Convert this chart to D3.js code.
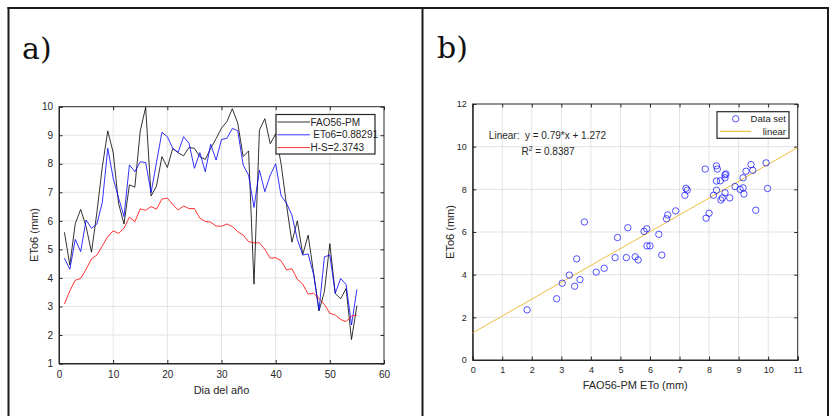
<!DOCTYPE html>
<html>
<head>
<meta charset="utf-8">
<script src="https://cdn.jsdelivr.net/npm/d3@7/dist/d3.min.js"></script>
<style>
  html, body { margin: 0; padding: 0; background: #fff; }
  svg { display: block; }
  text { font-family: "Liberation Sans", Arial, Helvetica, sans-serif; fill: #262626; }
</style>
</head>
<body>
<svg id="chart" width="832" height="416"></svg>
<script>
// Daily reference evapotranspiration (mm), days 1..55
const days = d3.range(1, 56);

const faoPm = [5.6, 4.45, 5.9, 6.4, 5.8, 4.9, 6.3, 7.9, 9.15, 8.4,
  6.6, 5.89, 7.26, 7.18, 9.15, 9.98, 6.87, 7.22, 8.25, 7.87,
  8.54, 8.38, 8.28, 8.57, 8.54, 8.25, 8.15, 8.54, 8.88, 9.25,
  9.48, 9.93, 9.42, 8.25, 8.45, 3.78, 9.18, 9.58, 8.7, 9.05,
  8.0, 6.56, 5.25, 6.0, 4.82, 5.5, 4.18, 2.84, 3.52, 5.2,
  3.45, 3.27, 3.63, 1.84, 3.03];

const eto6 = [4.69, 4.3, 5.35, 4.92, 6.03, 5.74, 5.89, 6.65, 8.54, 7.5,
  6.8, 6.15, 7.96, 7.72, 8.07, 8.04, 6.99, 8.05, 9.1, 8.95,
  8.54, 8.4, 8.95, 8.72, 7.84, 8.39, 7.72, 8.68, 8.13, 8.85,
  8.89, 9.24, 9.16, 7.96, 7.6, 6.47, 7.78, 7.02, 7.6, 8.0,
  6.88, 6.62, 6.2, 5.35, 4.8, 4.84, 4.12, 2.87, 4.74, 4.8,
  3.46, 3.98, 3.77, 2.35, 3.6];

const hargreaves = [3.08, 3.55, 3.92, 3.98, 4.3, 4.67, 4.8, 5.12, 5.45, 5.65,
  5.56, 5.74, 6.13, 5.97, 6.42, 6.37, 6.5, 6.41, 6.76, 6.8,
  6.57, 6.38, 6.52, 6.43, 6.43, 6.09, 5.98, 5.95, 5.82, 5.81,
  5.89, 5.8, 5.62, 5.5, 5.27, 5.23, 5.23, 5.0, 4.69, 4.71,
  4.6, 4.28, 4.32, 3.95, 3.78, 3.43, 3.46, 3.28, 3.07, 2.76,
  2.7, 2.54, 2.47, 2.66, 2.7];

const seriesNames = ["FAO56-PM", " ETo6=0.88291", "H-S=2.3743"];
const seriesColors = ["#000000", "#0000ff", "#ff0000"];

const dayTicks = [0, 10, 20, 30, 40, 50, 60];
const etoTicks = [1, 2, 3, 4, 5, 6, 7, 8, 9, 10];

// Regression shown in panel b
const fitSlope = 0.79;
const fitIntercept = 1.272;
const fitR2 = "0.8387";
const scatterXTicks = [0, 1, 2, 3, 4, 5, 6, 7, 8, 9, 10, 11];
const scatterYTicks = [0, 2, 4, 6, 8, 10, 12];

const svg = d3.select("#chart");
const axisColor = "#262626";
const gridColor = "#e3e3e3";

// Outer frame of the two-panel figure
const frame = svg.append("g").attr("stroke", "#1a1a1a").attr("stroke-width", 2);
frame.append("line").attr("x1", 7.5).attr("x2", 829).attr("y1", 8).attr("y2", 8);
frame.append("line").attr("x1", 8.5).attr("x2", 8.5).attr("y1", 7).attr("y2", 416);
frame.append("line").attr("x1", 422.5).attr("x2", 422.5).attr("y1", 7).attr("y2", 416);
frame.append("line").attr("x1", 828).attr("x2", 828).attr("y1", 7).attr("y2", 416);

svg.append("text").attr("x", 22).attr("y", 59)
  .style("font-family", "'DejaVu Serif', 'Liberation Serif', serif")
  .style("font-size", "30px").style("fill", "#111").text("a)");
svg.append("text").attr("x", 437).attr("y", 58)
  .style("font-family", "'DejaVu Serif', 'Liberation Serif', serif")
  .style("font-size", "30px").style("fill", "#111").text("b)");

// Draws a MATLAB-style boxed axes with grid and inward ticks on all sides
function drawAxes(g, x, y, xt, yt, fontSize) {
  const [x0, x1] = x.range();
  const [y0, y1] = y.range();
  const tl = 3.5;
  g.append("g").selectAll("line").data(xt.slice(1, -1)).join("line")
    .attr("x1", d => x(d)).attr("x2", d => x(d)).attr("y1", y0).attr("y2", y1)
    .attr("stroke", gridColor).attr("stroke-width", 1);
  g.append("g").selectAll("line").data(yt.slice(1, -1)).join("line")
    .attr("y1", d => y(d)).attr("y2", d => y(d)).attr("x1", x0).attr("x2", x1)
    .attr("stroke", gridColor).attr("stroke-width", 1);

  const bottom = g.append("g").attr("transform", `translate(0,${y0})`)
    .call(d3.axisBottom(x).tickValues(xt).tickSize(-tl).tickPadding(7).tickFormat(d3.format("d")));
  const left = g.append("g").attr("transform", `translate(${x0},0)`)
    .call(d3.axisLeft(y).tickValues(yt).tickSize(-tl).tickPadding(6).tickFormat(d3.format("d")));
  const top = g.append("g").attr("transform", `translate(0,${y1})`)
    .call(d3.axisTop(x).tickValues(xt).tickSize(-tl).tickFormat(""));
  const right = g.append("g").attr("transform", `translate(${x1},0)`)
    .call(d3.axisRight(y).tickValues(yt).tickSize(-tl).tickFormat(""));
  [bottom, left, top, right].forEach(a => {
    a.select(".domain").attr("stroke", axisColor).attr("stroke-width", 1);
    a.selectAll(".tick line").attr("stroke", axisColor);
    a.selectAll("text").style("font-size", fontSize + "px").style("fill", axisColor)
      .style("font-family", "'Liberation Sans', Arial, sans-serif");
  });
  [top, right].forEach(a => a.select(".domain").remove());
  g.append("rect").attr("x", x0).attr("y", y1).attr("width", x1 - x0).attr("height", y0 - y1)
    .attr("fill", "none").attr("stroke", axisColor).attr("stroke-width", 1);
}

// ---- Panel a: daily time series ----
const xA = d3.scaleLinear().domain([0, 60]).range([59, 384]);
const yA = d3.scaleLinear().domain([1, 10]).range([363.5, 106.7]);
const gA = svg.append("g");
drawAxes(gA, xA, yA, dayTicks, etoTicks, 10);

const clipA = svg.append("clipPath").attr("id", "clipA").append("rect")
  .attr("x", 59).attr("y", 106.7).attr("width", 325).attr("height", 256.8);

const lineA = (vals) => d3.line().x((d, i) => xA(days[i])).y(d => yA(d))(vals);
[faoPm, eto6, hargreaves].forEach((vals, k) => {
  gA.append("path").attr("d", lineA(vals)).attr("fill", "none")
    .attr("stroke", seriesColors[k]).attr("stroke-width", 1).attr("stroke-opacity", 0.8)
    .attr("clip-path", "url(#clipA)");
});

gA.append("text").attr("x", (xA.range()[0] + xA.range()[1]) / 2).attr("y", 394)
  .attr("text-anchor", "middle").style("font-size", "11px").text("Dia del año");
gA.append("text").attr("transform", "translate(38,235) rotate(-90)")
  .attr("text-anchor", "middle").style("font-size", "11px").text("ETo6 (mm)");

// Legend for panel a
const legA = gA.append("g");
legA.append("rect").attr("x", 276).attr("y", 114.5).attr("width", 99).attr("height", 39.5)
  .attr("fill", "#fff").attr("stroke", axisColor).attr("stroke-width", 1.2);
seriesNames.forEach((name, k) => {
  const yy = 122 + k * 12.8;
  legA.append("line").attr("x1", 277.5).attr("x2", 310).attr("y1", yy).attr("y2", yy)
    .attr("stroke", seriesColors[k]).attr("stroke-width", 1).attr("stroke-opacity", 0.8);
  legA.append("text").attr("x", 310.5).attr("y", yy + 3.6)
    .style("font-size", "10px").style("white-space", "pre").attr("xml:space", "preserve").text(name);
});

// ---- Panel b: scatter with linear fit ----
const xB = d3.scaleLinear().domain([0, 11]).range([472.7, 797.7]);
const yB = d3.scaleLinear().domain([0, 12]).range([360, 104]);
const gB = svg.append("g");
drawAxes(gB, xB, yB, scatterXTicks, scatterYTicks, 9);

const fitX = xB.domain();
gB.append("line")
  .attr("x1", xB(fitX[0])).attr("y1", yB(fitSlope * fitX[0] + fitIntercept))
  .attr("x2", xB(fitX[1])).attr("y2", yB(fitSlope * fitX[1] + fitIntercept))
  .attr("stroke", "#edb120").attr("stroke-width", 1).attr("stroke-opacity", 0.85);

const pairs = faoPm.map((v, i) => [v, eto6[i]]);
gB.append("g").selectAll("circle").data(pairs).join("circle")
  .attr("cx", d => xB(d[0])).attr("cy", d => yB(d[1])).attr("r", 3.2)
  .attr("fill", "none").attr("stroke", "#0000ff").attr("stroke-width", 0.9).attr("stroke-opacity", 0.75);

const ann = gB.append("text").attr("text-anchor", "middle").style("font-size", "10px");
ann.append("tspan").attr("x", 547.5).attr("y", 138.5).attr("xml:space", "preserve")
  .text(`Linear:  y = ${fitSlope}*x + ${fitIntercept}`);
const r2 = gB.append("text").attr("x", 548).attr("y", 155).attr("text-anchor", "middle")
  .style("font-size", "10px");
r2.append("tspan").text("R");
r2.append("tspan").attr("dy", -4).style("font-size", "7px").text("2");
r2.append("tspan").attr("dy", 4).text(` = ${fitR2}`);

gB.append("text").attr("x", (xB.range()[0] + xB.range()[1]) / 2).attr("y", 389)
  .attr("text-anchor", "middle").style("font-size", "11px").text("FAO56-PM ETo (mm)");
gB.append("text").attr("transform", `translate(454,${(yB.range()[0] + yB.range()[1]) / 2}) rotate(-90)`)
  .attr("text-anchor", "middle").style("font-size", "11px").text("ETo6 (mm)");

// Legend for panel b
const legB = gB.append("g");
legB.append("rect").attr("x", 717).attr("y", 111.7).attr("width", 72).attr("height", 26.6)
  .attr("fill", "#fff").attr("stroke", axisColor).attr("stroke-width", 1.2);
legB.append("circle").attr("cx", 735.7).attr("cy", 118.8).attr("r", 3.2)
  .attr("fill", "none").attr("stroke", "#0000ff").attr("stroke-width", 0.9).attr("stroke-opacity", 0.75);
legB.append("text").attr("x", 786).attr("y", 122.2).attr("text-anchor", "end")
  .style("font-size", "9.5px").text("Data set");
legB.append("line").attr("x1", 720).attr("x2", 751).attr("y1", 131.3).attr("y2", 131.3)
  .attr("stroke", "#edb120").attr("stroke-width", 1);
legB.append("text").attr("x", 786).attr("y", 134.6).attr("text-anchor", "end")
  .style("font-size", "9.5px").text("linear");
</script>
</body>
</html>
